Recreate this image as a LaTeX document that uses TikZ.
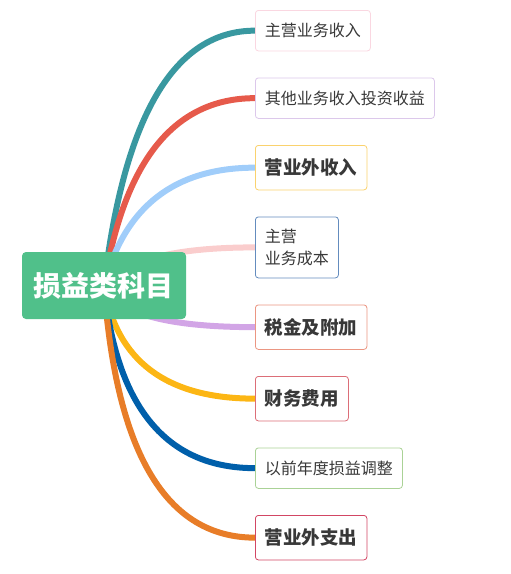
\documentclass[tikz,border=0pt]{standalone}
\usepackage{fontspec}
\setmainfont{Noto Sans CJK SC}
\usetikzlibrary{positioning,backgrounds,calc}
\definecolor{rootgreen}{RGB}{80,192,138}
\definecolor{textgray}{RGB}{56,56,56}
\definecolor{branchteal}{RGB}{57,152,160}
\definecolor{branchred}{RGB}{230,90,75}
\definecolor{branchsky}{RGB}{160,205,250}
\definecolor{branchpink}{RGB}{250,205,205}
\definecolor{branchpurple}{RGB}{210,165,230}
\definecolor{branchyellow}{RGB}{252,182,20}
\definecolor{branchblue}{RGB}{0,95,170}
\definecolor{branchorange}{RGB}{232,125,40}
\definecolor{rimpink}{RGB}{250,215,225}
\definecolor{rimlavender}{RGB}{220,200,235}
\definecolor{rimgold}{RGB}{250,210,110}
\definecolor{rimsteel}{RGB}{100,140,190}
\definecolor{rimsalmon}{RGB}{235,150,130}
\definecolor{rimrose}{RGB}{220,110,120}
\definecolor{rimgreen}{RGB}{170,210,150}
\definecolor{rimcrimson}{RGB}{210,70,100}

\begin{document}
\begin{tikzpicture}[x=1pt,y=-1pt,
    every node/.style={draw,fill=white,rounded corners=3pt,inner xsep=9.5pt,line width=0.8pt,text=textgray,
        font=\fontsize{16pt}{22pt}\selectfont,align=left,minimum height=40.5pt,anchor=north west},
    big/.style={font=\fontsize{18.5pt}{22pt}\selectfont\bfseries,minimum height=44.5pt},
    branch/.style={line width=6pt,to path={let \p1=(\tikztostart),\p2=(\tikztotarget) in
        .. controls ({\x1+#1*2/3*(\x2-\x1)},{\y1+2/3*(\y2-\y1)}) and ({\x2-(1-#1)*2/3*(\x2-\x1)},\y2) .. (\tikztotarget)}},
    rise/.style={branch=0.2},
    fall/.style={branch=0.12},
    node distance=26.2pt]
    \useasboundingbox (0,0) rectangle (511,574);
    \node (root) [anchor=center,fill=rootgreen,draw=none,text=white,rounded corners=4pt,minimum width=164pt,minimum height=67pt,
        font=\fontsize{28pt}{30pt}\selectfont\bfseries] at (104,285.5) {损益类科目};
    \coordinate (hub) at (root.center);
    \node (zhuying) [draw=rimpink] at (255,10) {主营业务收入};
    \node (qita) [draw=rimlavender,below=of zhuying.south west,anchor=north west] {其他业务收入投资收益};
    \node (yingwaishou) [big,draw=rimgold,below=of qita.south west,anchor=north west] {营业外收入};
    \node (chengben) [draw=rimsteel,minimum height=61pt,below=of yingwaishou.south west,anchor=north west] {主营\\业务成本};
    \node (shuijin) [big,draw=rimsalmon,below=of chengben.south west,anchor=north west] {税金及附加};
    \node (caiwu) [big,draw=rimrose,below=of shuijin.south west,anchor=north west] {财务费用};
    \node (tiaozheng) [draw=rimgreen,below=of caiwu.south west,anchor=north west] {以前年度损益调整};
    \node (yingwaizhi) [big,draw=rimcrimson,below=of tiaozheng.south west,anchor=north west] {营业外支出};
    \begin{scope}[on background layer]
    \path [line width=6pt] (hub) edge[rise,branchteal] (zhuying.west) (hub) edge[rise,branchred] (qita.west)
        (hub) edge[rise,branchsky] (yingwaishou.west) (hub) edge[rise,branchpink] (chengben.west)
        (hub) edge[fall,branchpurple] (shuijin.west) (hub) edge[fall,branchyellow] (caiwu.west)
        (hub) edge[fall,branchblue] (tiaozheng.west) (hub) edge[fall,branchorange] (yingwaizhi.west);
    \end{scope}
\end{tikzpicture}
\end{document}
